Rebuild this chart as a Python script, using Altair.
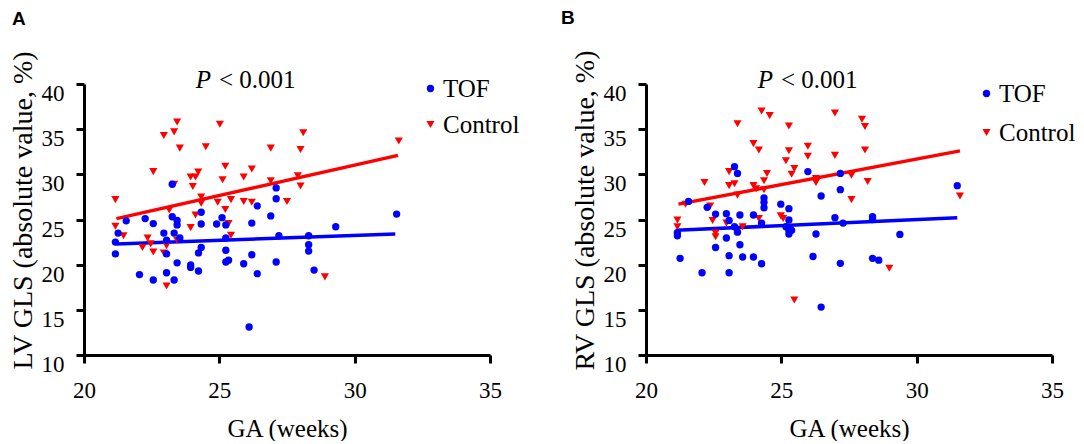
import altair as alt
import pandas as pd

SERIF = "Liberation Serif"
SANS = "Liberation Sans"

groups = ["TOF", "Control"]
colors = ["#0000ff", "#ff0000"]
shapes = ["circle", "triangle-down"]
marker_sizes = [54, 66]

x_ticks = [20, 25, 30, 35]
y_ticks = [10, 15, 20, 25, 30, 35, 40]
p_italic = "P"
p_rest = "< 0.001"

# ---------------- Panel A: LV GLS ----------------
ga_a_tof = [21.16, 21.16, 21.26, 21.56, 22.26, 22.56, 22.05, 22.56, 22.95, 23.05,
            23.05, 23.05, 23.33, 23.26, 23.26, 23.44, 23.44, 23.33, 23.54, 23.44,
            23.94, 23.94, 24.23, 24.23, 24.33, 24.33, 24.33, 24.9, 25.1, 25.24,
            25.24, 25.24, 25.24, 25.34, 26.1, 25.9, 26.2, 26.2, 26.4, 26.4,
            26.9, 27.1, 27.1, 27.2, 27.1, 28.3, 28.3, 28.3, 28.5, 29.3, 31.55]
gls_a_tof = [22.5, 21.2, 23.5, 24.85, 25.1, 24.55, 18.9, 18.3, 23.5, 22.7,
             21.2, 19.1, 18.3, 28.9, 25.3, 24.9, 24.4, 23.5, 22.95, 20.2,
             19.96, 19.7, 19.3, 21.3, 21.9, 25.8, 24.5, 24.5, 25.2, 24.4,
             22.95, 21.6, 20.3, 20.5, 13.1, 20.1, 21.1, 24.6, 26.5, 19.0,
             25.4, 28.5, 27.3, 23.2, 20.3, 23.2, 22.2, 21.5, 19.4, 24.2, 25.6]
ga_a_ctl = [21.16, 21.16, 21.46, 22.16, 22.35, 22.46, 22.56, 22.56, 22.95, 23.05,
            22.95, 23.05, 23.15, 23.33, 23.44, 23.54, 23.33, 23.44, 23.94, 23.94,
            24.12, 24.02, 24.22, 24.12, 24.33, 24.33, 24.5, 24.94, 25.02, 25.12,
            25.22, 25.22, 25.34, 25.43, 25.43, 25.9, 25.9, 26.2, 26.2, 26.9,
            26.9, 27.5, 27.9, 28.0, 28.0, 28.1, 28.9, 31.63]
gls_a_ctl = [27.2, 24.25, 23.2, 21.9, 22.95, 22.3, 21.4, 30.3, 34.3, 22.1,
             21.3, 17.65, 26.05, 34.7, 35.8, 32.9, 28.9, 22.7, 24.1, 29.7,
             29.7, 28.65, 30.26, 25.5, 27.5, 26.8, 33.05, 26.9, 35.55, 29.4,
             30.9, 26.1, 24.55, 27.2, 23.25, 29.7, 27.0, 30.6, 26.9, 32.9,
             29.3, 27.0, 29.85, 32.75, 28.7, 34.6, 18.65, 33.7]
fit_a_tof_ga = [21.2, 31.5]
fit_a_tof_val = [22.3, 23.4]
fit_a_ctl_ga = [21.2, 31.6]
fit_a_ctl_val = [25.1, 32.1]

# ---------------- Panel B: RV GLS ----------------
ga_b_tof = [21.16, 21.16, 21.26, 21.57, 22.07, 22.26, 22.57, 22.57, 22.97, 22.97,
            23.07, 23.07, 23.07, 23.27, 23.38, 23.27, 23.38, 23.47, 23.47, 23.57,
            23.97, 23.97, 24.27, 24.27, 24.36, 24.36, 24.36, 24.98, 25.28, 25.28,
            25.17, 25.28, 25.28, 25.38, 25.98, 26.17, 26.28, 26.47, 26.47, 26.98,
            27.18, 27.18, 27.18, 27.28, 28.37, 28.37, 28.37, 28.6, 29.38, 31.5]
gls_b_tof = [23.54, 23.2, 20.7, 27.0, 19.1, 26.35, 25.6, 21.9, 25.65, 22.95,
             24.9, 21.0, 19.1, 30.85, 30.1, 24.2, 23.6, 25.5, 22.2, 20.85,
             25.5, 20.85, 20.1, 24.6, 27.4, 26.9, 26.3, 26.7, 26.2, 24.95,
             24.2, 23.8, 23.4, 23.8, 30.3, 20.9, 23.4, 27.6, 15.3, 25.2,
             30.1, 28.3, 20.15, 24.6, 25.3, 25.0, 20.7, 20.5, 23.35, 28.75]
ga_b_ctl = [21.16, 21.16, 21.46, 22.16, 22.37, 22.46, 22.57, 22.57, 22.97, 23.07,
            23.07, 23.27, 23.38, 23.38, 23.57, 23.97, 23.97, 24.07, 24.17, 24.17,
            24.27, 24.36, 24.36, 24.47, 24.57, 24.98, 25.07, 25.17, 25.28, 25.28,
            25.38, 25.48, 25.48, 25.98, 25.98, 26.28, 26.28, 26.98, 26.98, 27.59,
            27.59, 27.98, 28.09, 28.09, 28.19, 28.99, 31.6]
gls_b_ctl = [24.95, 24.2, 26.7, 29.1, 26.5, 24.9, 23.5, 23.1, 24.6, 30.3,
             28.75, 28.95, 35.6, 27.7, 24.2, 33.4, 28.75, 28.4, 32.7, 25.1,
             37.0, 29.3, 28.3, 30.1, 36.5, 25.4, 25.1, 31.5, 35.35, 32.6,
             30.0, 30.65, 16.1, 33.1, 32.0, 29.55, 29.1, 36.8, 32.1, 29.9,
             27.2, 36.1, 35.3, 32.7, 29.2, 19.6, 27.6]
fit_b_tof_ga = [21.1, 31.5]
fit_b_tof_val = [23.8, 25.2]
fit_b_ctl_ga = [21.2, 31.6]
fit_b_ctl_val = [26.7, 32.6]


def frame(ga_tof, v_tof, ga_ctl, v_ctl):
    ctl = pd.DataFrame({"ga": ga_ctl, "gls": v_ctl, "group": groups[1]})
    tof = pd.DataFrame({"ga": ga_tof, "gls": v_tof, "group": groups[0]})
    return pd.concat([ctl, tof], ignore_index=True)


def panel(letter, ytitle, pts, fit, title_dx, legend_x, legend_y, row_pad):
    cscale = alt.Scale(domain=groups, range=colors)
    sscale = alt.Scale(domain=groups, range=shapes)
    zscale = alt.Scale(domain=groups, range=marker_sizes)
    leg = alt.Legend(title=None, orient="none", legendX=legend_x, legendY=legend_y,
                     labelFont=SERIF, labelFontSize=25, labelColor="black",
                     labelBaseline="middle", symbolSize=45, symbolStrokeWidth=0,
                     rowPadding=row_pad, labelOffset=0, padding=0)
    x = alt.X("ga:Q", scale=alt.Scale(domain=[20, 35], nice=False, zero=False),
              axis=alt.Axis(values=x_ticks, title="GA (weeks)", labelPadding=16,
                            titleFontSize=25, titlePadding=14))
    y = alt.Y("gls:Q", scale=alt.Scale(domain=[10, 40], nice=False, zero=False),
              axis=alt.Axis(values=y_ticks, title=ytitle, labelPadding=12,
                            labelBaseline="alphabetic", labelOffset=16.5,
                            titleFontSize=28, titlePadding=4, titleY=126))
    lines = alt.Chart(fit).mark_line(strokeWidth=3.5).encode(
        x=x, y=y, color=alt.Color("group:N", scale=cscale, legend=leg))
    pts_layer = alt.Chart(pts).mark_point(filled=True, opacity=1, strokeWidth=0).encode(
        x=x, y=y,
        color=alt.Color("group:N", scale=cscale, legend=leg),
        shape=alt.Shape("group:N", scale=sscale, legend=leg),
        size=alt.Size("group:N", scale=zscale, legend=None),
        order=alt.Order("ord:Q"))
    t1 = alt.Chart(pd.DataFrame({"t": [p_italic]})).mark_text(
        font=SERIF, fontSize=25, fontStyle="italic", align="right",
        baseline="alphabetic", color="black").encode(
        x=alt.value(127), y=alt.value(3.5), text="t:N")
    t2 = alt.Chart(pd.DataFrame({"t": [p_rest]})).mark_text(
        font=SERIF, fontSize=25, align="left", baseline="alphabetic",
        color="black").encode(x=alt.value(135), y=alt.value(3.5), text="t:N")
    return alt.layer(lines, pts_layer, t1, t2).properties(
        width=406, height=271,
        title=alt.TitleParams(letter, anchor="start", frame="group", font=SANS,
                              fontSize=19, fontWeight="bold", color="black",
                              dx=title_dx, offset=22))


pts_a = frame(ga_a_tof, gls_a_tof, ga_a_ctl, gls_a_ctl)
pts_a["ord"] = range(len(pts_a))
fit_a = frame(fit_a_tof_ga, fit_a_tof_val, fit_a_ctl_ga, fit_a_ctl_val)
pts_b = frame(ga_b_tof, gls_b_tof, ga_b_ctl, gls_b_ctl)
pts_b["ord"] = range(len(pts_b))
fit_b = frame(fit_b_tof_ga, fit_b_tof_val, fit_b_ctl_ga, fit_b_ctl_val)

pa = panel("A", "LV GLS (absolute value, %)", pts_a, fit_a, -72, 334, -8, 10)
pb = panel("B", "RV GLS (absolute value, %)", pts_b, fit_b, -85, 328, -3, 13)

chart = alt.hconcat(pa, pb, spacing=156, bounds="flush").resolve_scale(
    color="independent", shape="independent", size="independent"
).resolve_legend(color="independent", shape="independent").properties(
    padding={"left": 0, "top": 0, "right": 0, "bottom": 0},
    background="white"
).configure_view(stroke=None).configure_axis(
    grid=False, domainColor="black", domainWidth=3, tickColor="black",
    tickWidth=3, tickSize=8, labelFont=SERIF, labelFontSize=23,
    labelColor="black", titleFont=SERIF, titleFontWeight="normal",
    titleColor="black", labelFlush=False
).configure_legend(
    labelFont=SERIF, labelFontSize=25, labelColor="black", padding=0
)

chart.save("out.html", embed_options={"renderer": "svg", "actions": False})
